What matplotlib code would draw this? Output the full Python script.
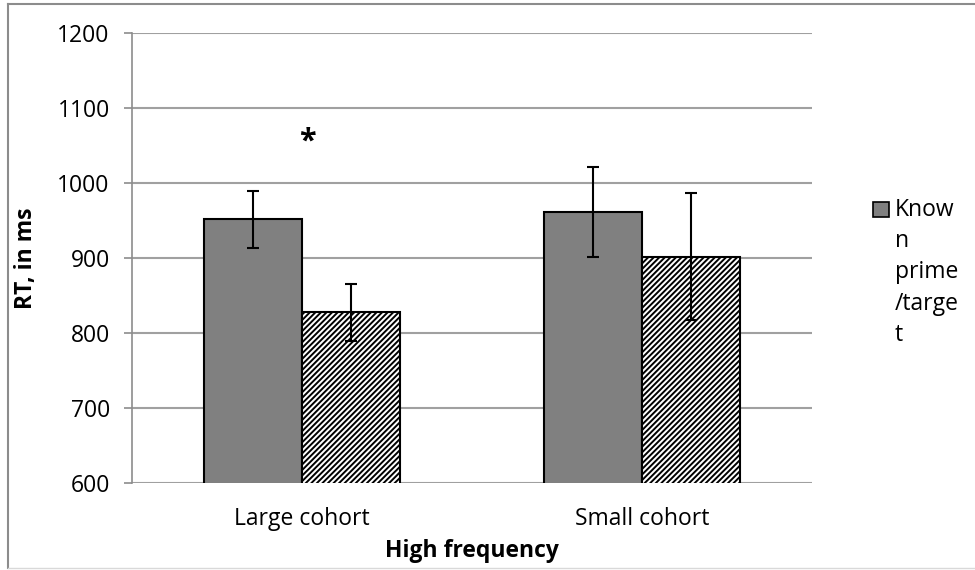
import numpy as np
import matplotlib
matplotlib.use("Agg")
import matplotlib.pyplot as plt
from matplotlib.lines import Line2D
from matplotlib.patches import Rectangle

plt.rcParams['font.family'] = ['Open Sans', 'DejaVu Sans']
plt.rcParams['hatch.linewidth'] = 1.4

# data
categories = ["Large cohort", "Small cohort"]
known_rt = [952, 961]
known_err = [38, 60]
unknown_rt = [828, 902]
unknown_err = [38, 85]
yticks = [600, 700, 800, 900, 1000, 1100, 1200]
legend_label = "Know\nn\nprime\n/targe\nt"

fig = plt.figure(figsize=(9.75, 5.7), dpi=100)
ax = fig.add_axes([0.1354, 0.1526, 0.6974, 0.7895])

x = np.arange(len(categories))
w = 0.288
fs = 16.5

ax.bar(x - w/2, known_rt, w, color="#808080", edgecolor="black",
       linewidth=1.5, zorder=3)
ax.bar(x + w/2, unknown_rt, w, color="white", edgecolor="black",
       hatch="//////", linewidth=1.5, zorder=3)
ax.errorbar(x - w/2, known_rt, yerr=known_err, fmt="none", ecolor="black",
            elinewidth=1.5, capsize=4.5, capthick=1.5, zorder=4)
ax.errorbar(x + w/2, unknown_rt, yerr=unknown_err, fmt="none", ecolor="black",
            elinewidth=1.5, capsize=4.5, capthick=1.5, zorder=4)

ax.text(0.015, 1055, "*", ha="center", va="center", fontsize=22,
        fontweight="bold")

ax.set_xlim(-0.5, 1.5)
ax.set_ylim(600, 1200)
ax.set_yticks(yticks)
ax.set_xticks(x)
ax.set_xticklabels(categories)
ax.yaxis.grid(True, color="#a0a0a0", linewidth=1.5, zorder=0)
ax.set_axisbelow(True)

for s in ["top", "right", "bottom"]:
    ax.spines[s].set_visible(False)
ax.spines["left"].set_color("#8c8c8c")
ax.spines["left"].set_linewidth(1.2)
ax.tick_params(axis="y", length=6, width=1.2, color="#8c8c8c", pad=10,
               labelsize=fs)
ax.tick_params(axis="x", length=0, pad=17, labelsize=fs)

ax.set_ylabel("RT, in ms", fontsize=fs, fontweight="bold")
ax.yaxis.set_label_coords(-0.138, 0.5)
ax.set_xlabel("High frequency", fontsize=fs, fontweight="bold")
ax.xaxis.set_label_coords(0.5, -0.125)

# legend (only first series shown, text wrapped)
fig.patches.append(Rectangle((873/975, 1 - 217/570), 16/975, 15/570,
                             transform=fig.transFigure, facecolor="#808080",
                             edgecolor="black", linewidth=1.2))
fig.text(895/975, 1 - 198/570, legend_label, ha="left", va="top",
         fontsize=fs, linespacing=1.4)

# chart area border
fc = "#8c8c8c"
fig.add_artist(Line2D([8/975, 8/975], [1 - 4/570, 1 - 568/570],
                      transform=fig.transFigure, color=fc, linewidth=1.5))
fig.add_artist(Line2D([8/975, 1], [1 - 4/570, 1 - 4/570],
                      transform=fig.transFigure, color=fc, linewidth=1.5))
fig.add_artist(Line2D([8/975, 1], [1 - 568/570, 1 - 568/570],
                      transform=fig.transFigure, color="#d9d9d9", linewidth=1))

fig.savefig("out.png", dpi=100)
